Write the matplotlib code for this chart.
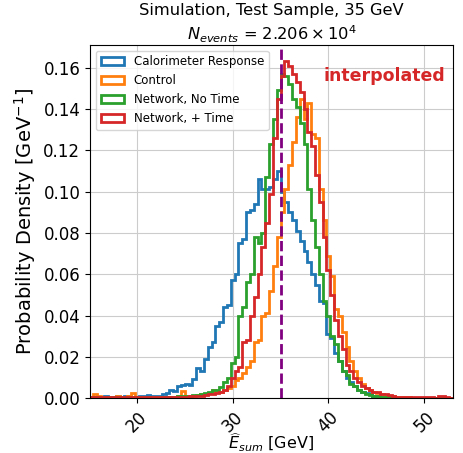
import numpy as np
import matplotlib
matplotlib.use("Agg")
import matplotlib.pyplot as plt

# bin edges (GeV)
edges = np.linspace(15.0, 53.0, 96)

calo = [0.0008, 0.0007, 0.0008, 0.0006, 0.0009, 0.0007, 0.0008, 0.0010, 0.0007, 0.0009,
        0.0012, 0.0008, 0.0007, 0.0009, 0.0011, 0.0015, 0.0012, 0.0010, 0.0013, 0.0018,
        0.0024, 0.0038, 0.0034, 0.0058, 0.0062, 0.0068, 0.0066, 0.0095, 0.0145, 0.0130,
        0.019, 0.025, 0.027, 0.035, 0.037, 0.044, 0.045, 0.057, 0.060, 0.075,
        0.077, 0.090, 0.091, 0.094, 0.106, 0.101, 0.101, 0.102, 0.106, 0.110,
        0.100, 0.095, 0.090, 0.086, 0.081, 0.076, 0.071, 0.066, 0.060, 0.055,
        0.047, 0.046, 0.031, 0.029, 0.022, 0.018, 0.013, 0.010, 0.008, 0.006,
        0.004, 0.003, 0.0025, 0.0018, 0.0012, 0.0010, 0.0008, 0.0006, 0.0005, 0.0004,
        0.0003, 0.0003, 0.0002, 0.0002, 0.0001, 0.0002, 0.0001, 0.0001, 0.0, 0.0001,
        0.0, 0.0, 0.0001, 0.0, 0.0]

control = [0.0008, 0.0018, 0.0010, 0.0006, 0.0008, 0.0007, 0.0005, 0.0009, 0.0006, 0.0008,
           0.0010, 0.0024, 0.0008, 0.0006, 0.0005, 0.0007, 0.0006, 0.0008, 0.0005, 0.0006,
           0.0007, 0.0006, 0.0008, 0.0009, 0.0033, 0.0010, 0.0009, 0.0012, 0.0015, 0.0018,
           0.0020, 0.0025, 0.0040, 0.0030, 0.0030, 0.0040, 0.0050, 0.0060, 0.0090, 0.0100,
           0.012, 0.015, 0.018, 0.027, 0.028, 0.040, 0.041, 0.052, 0.064, 0.078,
           0.090, 0.101, 0.113, 0.124, 0.136, 0.145, 0.135, 0.143, 0.128, 0.126,
           0.101, 0.086, 0.069, 0.059, 0.043, 0.040, 0.032, 0.025, 0.018, 0.013,
           0.010, 0.007, 0.005, 0.004, 0.003, 0.0025, 0.002, 0.0015, 0.0012, 0.0010,
           0.0008, 0.0006, 0.0005, 0.0004, 0.0003, 0.0003, 0.0002, 0.0002, 0.0002, 0.0001,
           0.0001, 0.0001, 0.0, 0.0, 0.0]

net_notime = [0.0007, 0.0006, 0.0008, 0.0005, 0.0006, 0.0007, 0.0005, 0.0006, 0.0004, 0.0006,
              0.0005, 0.0006, 0.0004, 0.0005, 0.0006, 0.0004, 0.0005, 0.0006, 0.0005, 0.0007,
              0.0006, 0.0008, 0.0007, 0.0009, 0.0010, 0.0011, 0.0012, 0.0014, 0.0017, 0.0020,
              0.0025, 0.003, 0.004, 0.004, 0.0055, 0.008, 0.010, 0.017, 0.020, 0.040,
              0.044, 0.056, 0.060, 0.078, 0.075, 0.080, 0.107, 0.123, 0.135, 0.149,
              0.157, 0.156, 0.152, 0.145, 0.141, 0.133, 0.123, 0.101, 0.086, 0.073,
              0.060, 0.047, 0.040, 0.030, 0.026, 0.018, 0.013, 0.011, 0.007, 0.006,
              0.004, 0.003, 0.002, 0.0015, 0.0012, 0.0010, 0.0008, 0.0006, 0.0005, 0.0004,
              0.0003, 0.0003, 0.0002, 0.0002, 0.0002, 0.0001, 0.0001, 0.0001, 0.0001, 0.0,
              0.0001, 0.0, 0.0, 0.0, 0.0]

net_time = [0.0005, 0.0004, 0.0005, 0.0006, 0.0004, 0.0005, 0.0004, 0.0005, 0.0006, 0.0004,
            0.0005, 0.0004, 0.0005, 0.0004, 0.0005, 0.0006, 0.0004, 0.0005, 0.0004, 0.0005,
            0.0005, 0.0006, 0.0006, 0.0007, 0.0008, 0.0008, 0.0009, 0.0010, 0.0012, 0.0013,
            0.0015, 0.0018, 0.0020, 0.0025, 0.003, 0.004, 0.006, 0.010, 0.013, 0.015,
            0.027, 0.028, 0.040, 0.049, 0.060, 0.073, 0.085, 0.099, 0.126, 0.145,
            0.156, 0.163, 0.161, 0.157, 0.153, 0.148, 0.140, 0.129, 0.122, 0.108,
            0.095, 0.078, 0.062, 0.050, 0.038, 0.030, 0.024, 0.016, 0.013, 0.010,
            0.008, 0.006, 0.005, 0.004, 0.003, 0.003, 0.002, 0.002, 0.0015, 0.001,
            0.0008, 0.0008, 0.0006, 0.0007, 0.0005, 0.0006, 0.0005, 0.0004, 0.0005, 0.0004,
            0.0003, 0.0012, 0.0010, 0.0004, 0.0003]

labels = ["Calorimeter Response", "Control", "Network, No Time", "Network, + Time"]
series = [calo, control, net_notime, net_time]
colors = ["tab:blue", "tab:orange", "tab:green", "tab:red"]

fig = plt.figure(figsize=(4.64, 4.53), dpi=100)
ax = fig.add_axes([0.194, 0.121, 0.782, 0.78])

centers = 0.5 * (edges[:-1] + edges[1:])
for vals, lab, c in zip(series, labels, colors):
    ax.hist(centers, bins=edges, weights=vals, histtype="step", lw=2, color=c, label=lab)

ax.axvline(35, color="purple", ls="--", lw=2)

ax.set_xlim(15.1, 53.0)
ax.set_ylim(0, 0.171)
ax.set_yticks(np.arange(0, 0.161, 0.02))
ax.grid(True, color="#cccccc", lw=0.8)
ax.set_axisbelow(True)
ax.tick_params(axis="both", labelsize=12)
plt.setp(ax.get_xticklabels(), rotation=45)

ax.set_xlabel(r"$\widehat{E}_{sum}$ [GeV]", fontsize=11.5)
ax.xaxis.set_label_coords(0.5, -0.095)
ax.xaxis.label.set_va("top")
ax.set_ylabel(r"Probability Density [GeV$^{-1}$]", fontsize=14)
ax.set_title("Simulation, Test Sample, 35 GeV\n" + r"$N_{events}$ = $2.206 \times 10^{4}$",
             fontsize=11.7, pad=0, linespacing=1.35)

ax.legend(loc="upper left", fontsize=8.5)
ax.text(0.978, 0.912, "interpolated", transform=ax.transAxes, ha="right", va="center",
        color="#d62728", fontsize=12.5, fontweight="bold")

fig.savefig("out.png", dpi=100)
